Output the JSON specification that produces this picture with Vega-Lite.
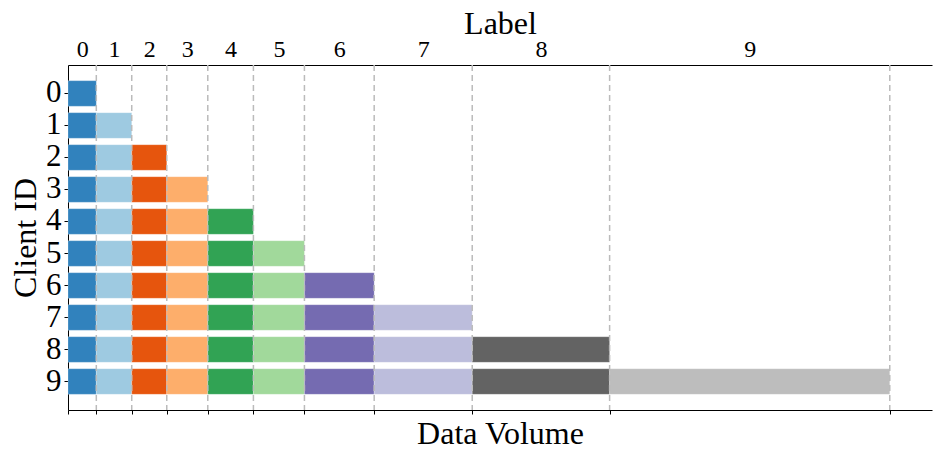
{
  "$schema": "https://vega.github.io/schema/vega-lite/v6.json",
  "width": 864,
  "height": 345,
  "autosize": {"type": "none"},
  "padding": {"left": 68, "top": 65, "right": 8, "bottom": 54},
  "background": "white",
  "config": {
    "view": {"stroke": null},
    "font": "Liberation Serif",
    "axis": {"labelFont": "Liberation Serif", "titleFont": "Liberation Serif", "titleFontWeight": "normal", "labelColor": "black", "titleColor": "black", "domainColor": "black", "tickColor": "black", "grid": false}
  },
  "datasets": {
    "volumes": [
      {"client": 0, "label": 0, "volume": 28.3},
      {"client": 1, "label": 0, "volume": 28.3}, {"client": 1, "label": 1, "volume": 35.4},
      {"client": 2, "label": 0, "volume": 28.3}, {"client": 2, "label": 1, "volume": 35.4}, {"client": 2, "label": 2, "volume": 35.0},
      {"client": 3, "label": 0, "volume": 28.3}, {"client": 3, "label": 1, "volume": 35.4}, {"client": 3, "label": 2, "volume": 35.0}, {"client": 3, "label": 3, "volume": 41.0},
      {"client": 4, "label": 0, "volume": 28.3}, {"client": 4, "label": 1, "volume": 35.4}, {"client": 4, "label": 2, "volume": 35.0}, {"client": 4, "label": 3, "volume": 41.0}, {"client": 4, "label": 4, "volume": 45.6},
      {"client": 5, "label": 0, "volume": 28.3}, {"client": 5, "label": 1, "volume": 35.4}, {"client": 5, "label": 2, "volume": 35.0}, {"client": 5, "label": 3, "volume": 41.0}, {"client": 5, "label": 4, "volume": 45.6}, {"client": 5, "label": 5, "volume": 51.0},
      {"client": 6, "label": 0, "volume": 28.3}, {"client": 6, "label": 1, "volume": 35.4}, {"client": 6, "label": 2, "volume": 35.0}, {"client": 6, "label": 3, "volume": 41.0}, {"client": 6, "label": 4, "volume": 45.6}, {"client": 6, "label": 5, "volume": 51.0}, {"client": 6, "label": 6, "volume": 69.7},
      {"client": 7, "label": 0, "volume": 28.3}, {"client": 7, "label": 1, "volume": 35.4}, {"client": 7, "label": 2, "volume": 35.0}, {"client": 7, "label": 3, "volume": 41.0}, {"client": 7, "label": 4, "volume": 45.6}, {"client": 7, "label": 5, "volume": 51.0}, {"client": 7, "label": 6, "volume": 69.7}, {"client": 7, "label": 7, "volume": 98.0},
      {"client": 8, "label": 0, "volume": 28.3}, {"client": 8, "label": 1, "volume": 35.4}, {"client": 8, "label": 2, "volume": 35.0}, {"client": 8, "label": 3, "volume": 41.0}, {"client": 8, "label": 4, "volume": 45.6}, {"client": 8, "label": 5, "volume": 51.0}, {"client": 8, "label": 6, "volume": 69.7}, {"client": 8, "label": 7, "volume": 98.0}, {"client": 8, "label": 8, "volume": 137.3},
      {"client": 9, "label": 0, "volume": 28.3}, {"client": 9, "label": 1, "volume": 35.4}, {"client": 9, "label": 2, "volume": 35.0}, {"client": 9, "label": 3, "volume": 41.0}, {"client": 9, "label": 4, "volume": 45.6}, {"client": 9, "label": 5, "volume": 51.0}, {"client": 9, "label": 6, "volume": 69.7}, {"client": 9, "label": 7, "volume": 98.0}, {"client": 9, "label": 8, "volume": 137.3}, {"client": 9, "label": 9, "volume": 280.0}
    ],
    "boundaries": [
      {"label": 0, "cumulative": 28.3},
      {"label": 1, "cumulative": 63.7},
      {"label": 2, "cumulative": 98.7},
      {"label": 3, "cumulative": 139.7},
      {"label": 4, "cumulative": 185.3},
      {"label": 5, "cumulative": 236.3},
      {"label": 6, "cumulative": 306.0},
      {"label": 7, "cumulative": 404.0},
      {"label": 8, "cumulative": 541.3},
      {"label": 9, "cumulative": 821.3}
    ]
  },
  "layer": [
    {
      "data": {"name": "volumes"},
      "mark": {"type": "bar", "stroke": "white", "strokeWidth": 0.4, "strokeOpacity": 0.6},
      "encoding": {
        "y": {
          "field": "client", "type": "ordinal",
          "scale": {"paddingInner": 0.2, "paddingOuter": 0.49},
          "axis": {"title": "Client ID", "labelFontSize": 31, "titleFontSize": 32, "labelAngle": 0, "tickSize": 4, "labelPadding": 3, "titlePadding": 3}
        },
        "x": {
          "field": "volume", "type": "quantitative", "aggregate": "sum", "stack": "zero",
          "scale": {"domain": [0, 863.5], "nice": false, "zero": true},
          "axis": {"orient": "bottom", "title": "Data Volume", "titleFontSize": 32, "values": [0, 28.3, 63.7, 98.7, 139.7, 185.3, 236.3, 306.0, 404.0, 541.3, 821.3], "labels": false, "tickSize": 4, "titlePadding": 4}
        },
        "order": {"field": "label", "type": "quantitative", "sort": "ascending"},
        "color": {
          "field": "label", "type": "nominal", "legend": null,
          "scale": {"domain": [0, 1, 2, 3, 4, 5, 6, 7, 8, 9], "range": ["#3182bd", "#9ecae1", "#e6550d", "#fdae6b", "#31a354", "#a1d99b", "#756bb1", "#bcbddc", "#636363", "#bdbdbd"]}
        }
      }
    },
    {
      "data": {"name": "boundaries"},
      "mark": {"type": "rule", "color": "#bbbbbb", "strokeDash": [6, 4], "strokeWidth": 1.5},
      "encoding": {
        "x": {
          "field": "cumulative", "type": "quantitative",
          "scale": {"domain": [0, 863.5], "nice": false, "zero": true},
          "axis": {"orient": "top", "title": "Label", "titleFontSize": 32, "labelFontSize": 24, "ticks": false, "labelPadding": 4, "titlePadding": -3,
            "values": [14.15, 46.0, 81.2, 119.2, 162.5, 210.8, 271.15, 355.0, 472.65, 681.3],
            "labelExpr": "indexof([14.15, 46.0, 81.2, 119.2, 162.5, 210.8, 271.15, 355.0, 472.65, 681.3], datum.value)"}
        }
      }
    }
  ],
  "resolve": {"scale": {"x": "independent"}, "axis": {"x": "independent"}}
}
